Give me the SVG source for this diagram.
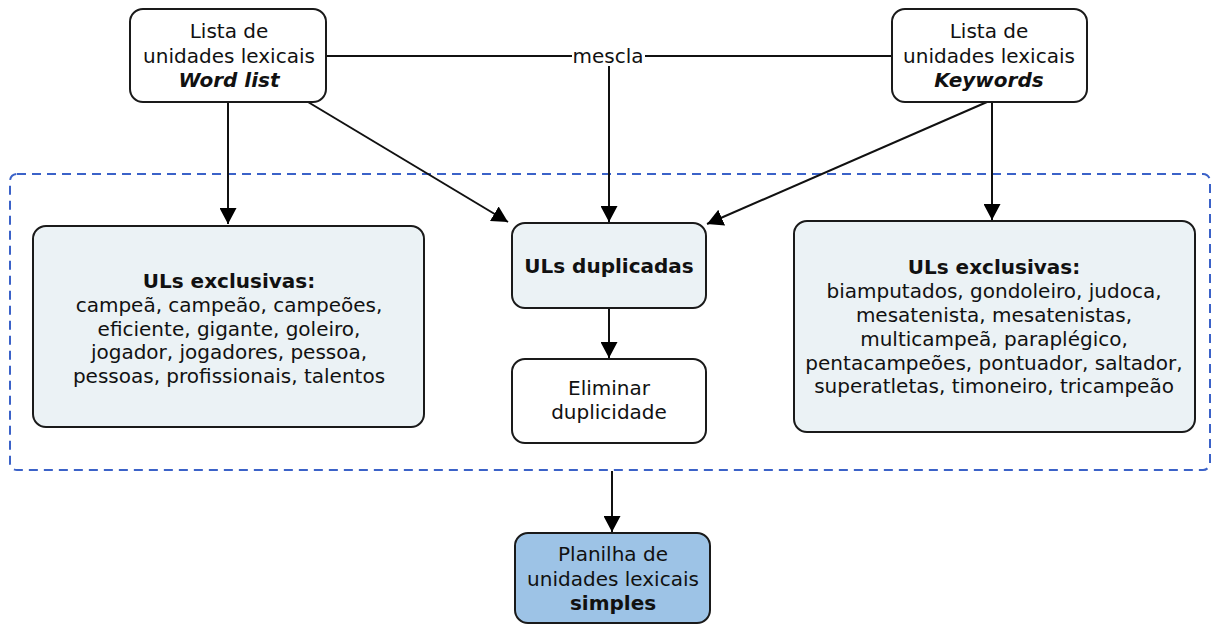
<svg xmlns="http://www.w3.org/2000/svg" width="1213" height="625" viewBox="0 0 1213 625">
<style>
text{font-family:"DejaVu Sans","Liberation Sans",sans-serif;font-size:20px;fill:#111;text-anchor:middle}
.b{font-weight:bold}
.bi{font-weight:bold;font-style:italic}
.node{stroke:#1a1a1a;stroke-width:2}
.w{fill:#ffffff}
.g{fill:#ebf2f5}
.p{fill:#9dc3e6}
.c{stroke:#111;stroke-width:2;fill:none}
</style>
<defs>
<marker id="a" viewBox="0 0 16 17" refX="16" refY="8.5" markerWidth="16" markerHeight="17" markerUnits="userSpaceOnUse" orient="auto">
<path d="M0,0 L16,8.5 L0,17 z" fill="#000"/>
</marker>
</defs>
<rect x="10" y="174" width="1200" height="296" rx="7" fill="none" stroke="#3b62c8" stroke-width="2" stroke-dasharray="9,6"/>
<g id="connectors">
<line class="c" x1="326" y1="56" x2="572" y2="56"/>
<line class="c" x1="645" y1="56" x2="892" y2="56"/>
<line class="c" x1="609" y1="66" x2="609" y2="222" marker-end="url(#a)"/>
<line class="c" x1="228" y1="102" x2="228" y2="224" marker-end="url(#a)"/>
<line class="c" x1="308" y1="102" x2="508" y2="222" marker-end="url(#a)"/>
<line class="c" x1="987" y1="102" x2="707" y2="224" marker-end="url(#a)"/>
<line class="c" x1="992" y1="102" x2="992" y2="220" marker-end="url(#a)"/>
<line class="c" x1="609" y1="308" x2="609" y2="358" marker-end="url(#a)"/>
<line class="c" x1="612" y1="471" x2="612" y2="532" marker-end="url(#a)"/>
<text x="608" y="63">mescla</text>
</g>
<g id="wordlist">
<rect class="node w" x="130" y="9" width="196" height="93" rx="13"/>
<text x="229" y="38">Lista de</text>
<text x="229" y="63">unidades lexicais</text>
<text class="bi" x="229" y="87">Word list</text>
</g>
<g id="keywords">
<rect class="node w" x="892" y="9" width="195" height="93" rx="13"/>
<text x="989" y="38">Lista de</text>
<text x="989" y="63">unidades lexicais</text>
<text class="bi" x="989" y="87">Keywords</text>
</g>
<g id="uls-left">
<rect class="node g" x="33" y="226" width="391" height="201" rx="13"/>
<text class="b" x="229" y="288">ULs exclusivas:</text>
<text x="229" y="312">campeã, campeão, campeões,</text>
<text x="229" y="336">eficiente, gigante, goleiro,</text>
<text x="229" y="359">jogador, jogadores, pessoa,</text>
<text x="229" y="383">pessoas, profissionais, talentos</text>
</g>
<g id="uls-dup">
<rect class="node g" x="512" y="223" width="194" height="85" rx="13"/>
<text class="b" x="609" y="273">ULs duplicadas</text>
</g>
<g id="eliminar">
<rect class="node w" x="512" y="359" width="194" height="84" rx="13"/>
<text x="609" y="395">Eliminar</text>
<text x="609" y="419">duplicidade</text>
</g>
<g id="uls-right">
<rect class="node g" x="794" y="221" width="401" height="211" rx="13"/>
<text class="b" x="994" y="274">ULs exclusivas:</text>
<text x="994" y="298">biamputados, gondoleiro, judoca,</text>
<text x="994" y="322">mesatenista, mesatenistas,</text>
<text x="994" y="346">multicampeã, paraplégico,</text>
<text x="994" y="370">pentacampeões, pontuador, saltador,</text>
<text x="994" y="393">superatletas, timoneiro, tricampeão</text>
</g>
<g id="planilha">
<rect class="node p" x="515" y="533" width="195" height="90" rx="13"/>
<text x="613" y="561">Planilha de</text>
<text x="613" y="586">unidades lexicais</text>
<text class="b" x="613" y="610">simples</text>
</g>
</svg>
